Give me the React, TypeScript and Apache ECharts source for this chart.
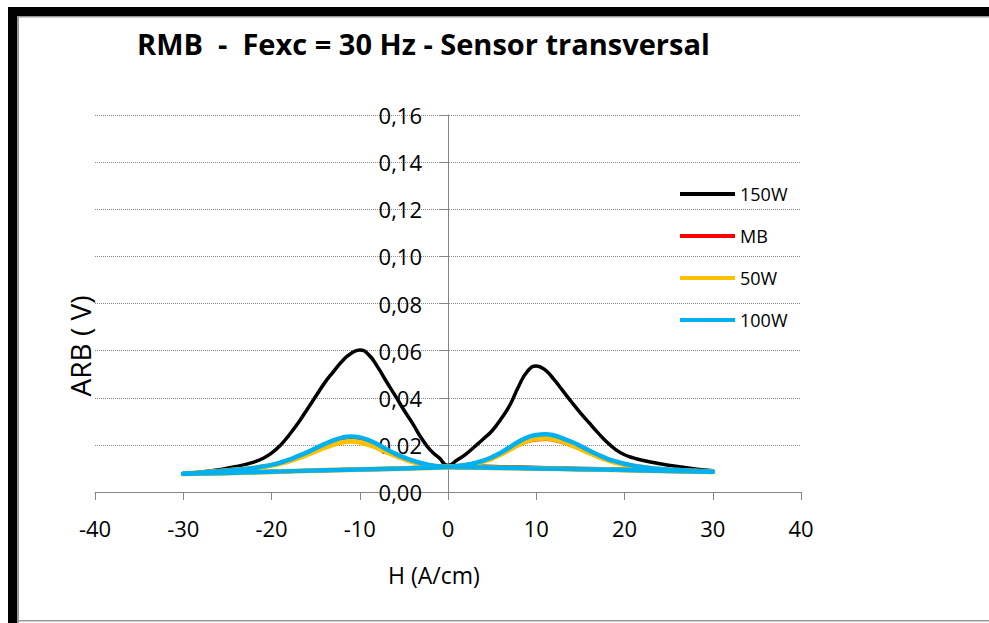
import React, { useEffect, useRef } from "react";
import * as echarts from "echarts";

const SERIES_NAMES = ["150W", "MB", "50W", "100W"];
const COLORS = ["#000000", "#FF0000", "#FFC000", "#00B0F0"];

// Rising-field branch (-30 -> 30) and falling-field branch (30 -> -30), H in A/cm
const H_UP = [-30, -25, -20, -15, -10, -5, -2, 0, 1, 2, 3, 4, 5, 6, 7, 8, 9, 10, 11, 12, 13, 14, 15, 16, 17, 18, 19, 20, 21, 22, 24, 26, 28, 30];
const H_DOWN = [30, 25, 20, 15, 10, 5, 2, 0, -1, -2, -3, -4, -5, -6, -7, -8, -9, -10, -11, -12, -13, -14, -15, -16, -17, -18, -19, -20, -21, -22, -24, -26, -28, -30];

const V_150W_UP = [
  0.0078, 0.0082, 0.0087, 0.0092, 0.0097, 0.0102, 0.0107, 0.0112,
  0.0135, 0.016, 0.0192, 0.0225, 0.026, 0.031, 0.0368, 0.0448, 0.0512, 0.0535, 0.0518, 0.0478, 0.043, 0.0382, 0.0336, 0.0293, 0.0251, 0.0212, 0.018, 0.0158, 0.0145, 0.0135,
  0.012, 0.0108, 0.0098, 0.009,
];
const V_150W_DOWN = [
  0.009, 0.0093, 0.0097, 0.01, 0.0104, 0.0108, 0.011, 0.0112,
  0.0145, 0.0178, 0.0228, 0.029, 0.0348, 0.041, 0.047, 0.0532, 0.0583, 0.0603, 0.0588, 0.0555, 0.051, 0.0462, 0.0405, 0.0348, 0.0292, 0.0242, 0.0198, 0.0165, 0.0142, 0.0127,
  0.0108, 0.0095, 0.0085, 0.0078,
];

const V_MB_UP = [
  0.0077, 0.0081, 0.0086, 0.0091, 0.0095, 0.01, 0.0103, 0.0106,
  0.0109, 0.0114, 0.0121, 0.0131, 0.0145, 0.0162, 0.0182, 0.0201, 0.0215, 0.0223, 0.0225, 0.0221, 0.0211, 0.0198, 0.0183, 0.0167, 0.0152, 0.0138, 0.0127, 0.0118, 0.0111, 0.0105,
  0.0097, 0.0092, 0.0089, 0.0086,
];
const V_MB_DOWN = [
  0.0086, 0.0089, 0.0093, 0.0097, 0.01, 0.0103, 0.0105, 0.0106,
  0.0109, 0.0113, 0.0121, 0.0131, 0.0144, 0.0159, 0.0177, 0.0196, 0.0211, 0.0221, 0.0225, 0.022, 0.0209, 0.0195, 0.0179, 0.0163, 0.0148, 0.0134, 0.0123, 0.0114, 0.0108, 0.0102,
  0.0094, 0.0088, 0.0082, 0.0077,
];

const V_50W_UP = [
  0.0077, 0.0081, 0.0086, 0.0091, 0.0095, 0.01, 0.0103, 0.0106,
  0.0109, 0.0114, 0.012, 0.013, 0.0143, 0.016, 0.018, 0.02, 0.0217, 0.0226, 0.0228, 0.0224, 0.0213, 0.0199, 0.0183, 0.0166, 0.015, 0.0136, 0.0125, 0.0116, 0.011, 0.0105,
  0.0097, 0.0092, 0.0089, 0.0086,
];
const V_50W_DOWN = [
  0.0086, 0.0089, 0.0093, 0.0097, 0.01, 0.0103, 0.0105, 0.0106,
  0.0108, 0.0112, 0.0119, 0.0128, 0.014, 0.0154, 0.017, 0.0187, 0.0201, 0.0211, 0.0215, 0.0211, 0.0201, 0.0188, 0.0173, 0.0158, 0.0144, 0.0131, 0.0121, 0.0113, 0.0107, 0.0102,
  0.0094, 0.0088, 0.0082, 0.0077,
];

const V_100W_UP = [
  0.0077, 0.0081, 0.0086, 0.0091, 0.0095, 0.01, 0.0103, 0.0106,
  0.011, 0.0115, 0.0122, 0.0133, 0.0148, 0.0167, 0.019, 0.0213, 0.0232, 0.0242, 0.0245, 0.024, 0.0228, 0.0213, 0.0195, 0.0176, 0.0158, 0.0142, 0.013, 0.012, 0.0112, 0.0106,
  0.0098, 0.0093, 0.0089, 0.0086,
];
const V_100W_DOWN = [
  0.0086, 0.0089, 0.0093, 0.0097, 0.01, 0.0103, 0.0105, 0.0106,
  0.0109, 0.0114, 0.0122, 0.0133, 0.0147, 0.0163, 0.0182, 0.0203, 0.022, 0.0232, 0.0236, 0.0231, 0.0219, 0.0203, 0.0186, 0.0168, 0.0152, 0.0137, 0.0125, 0.0115, 0.0108, 0.0102,
  0.0094, 0.0088, 0.0082, 0.0077,
];

const X_MIN = -40;
const X_MAX = 40;
const X_STEP = 10;
const Y_MIN = 0;
const Y_MAX = 0.16;
const Y_STEP = 0.02;

const TITLE = "RMB  -  Fexc = 30 Hz - Sensor transversal";
const X_NAME = "H (A/cm)";
const Y_NAME = "ARB ( V)";

const FONT = "'Open Sans', 'DejaVu Sans', sans-serif";

function pairs(h: number[], v: number[]) {
  return h.map((x, i) => [x, v[i]]);
}

export default function App() {
  const ref = useRef<HTMLDivElement>(null);
  useEffect(() => {
    if (!ref.current) return;
    const chart = echarts.init(ref.current, undefined, { renderer: "svg" });
    const branches = [
      [pairs(H_UP, V_150W_UP), pairs(H_DOWN, V_150W_DOWN)],
      [pairs(H_UP, V_MB_UP), pairs(H_DOWN, V_MB_DOWN)],
      [pairs(H_UP, V_50W_UP), pairs(H_DOWN, V_50W_DOWN)],
      [pairs(H_UP, V_100W_UP), pairs(H_DOWN, V_100W_DOWN)],
    ];
    const widths = [3.5, 4, 5, 4.5];
    const gridLeft = 95;
    const gridRight = 188;
    const plotW = 989 - gridLeft - gridRight;
    const zeroOffset = -plotW * ((0 - X_MIN) / (X_MAX - X_MIN));
    const series: any[] = [];
    SERIES_NAMES.forEach((name, i) => {
      branches[i].forEach((data) => {
        series.push({
          name,
          type: "line",
          data,
          smooth: 0.5,
          showSymbol: false,
          symbol: "none",
          color: COLORS[i],
          lineStyle: { color: COLORS[i], width: widths[i], cap: "round", join: "round" },
          z: 2 + i,
        });
      });
    });
    chart.setOption({
      animation: false,
      backgroundColor: "#ffffff",
      grid: { left: gridLeft, right: gridRight, top: 115, bottom: 131, containLabel: false },
      legend: {
        orient: "vertical",
        left: 675,
        top: 178,
        itemWidth: 55,
        itemHeight: 4,
        itemGap: 20,
        icon: "rect",
        data: SERIES_NAMES,
        textStyle: { fontFamily: FONT, fontSize: 18, color: "#000", lineHeight: 22, padding: [0, 0, 0, 0] },
      },
      xAxis: {
        type: "value",
        min: X_MIN,
        max: X_MAX,
        interval: X_STEP,
        axisLine: { onZero: true, lineStyle: { color: "#868686", width: 1 } },
        axisTick: { show: true, length: 8, lineStyle: { color: "#868686" } },
        axisLabel: { fontFamily: FONT, fontSize: 22, color: "#000", margin: 25 },
        splitLine: { show: false },
      },
      yAxis: {
        type: "value",
        min: Y_MIN,
        max: Y_MAX,
        interval: Y_STEP,
        position: "left",
        offset: zeroOffset,
        axisLine: { show: true, onZero: false, lineStyle: { color: "#868686", width: 1 } },
        axisTick: { show: true, length: 8, lineStyle: { color: "#868686" } },
        axisLabel: {
          fontFamily: FONT,
          fontSize: 22,
          color: "#000",
          margin: 26,
          formatter: (v: number) => v.toFixed(2).replace(".", ","),
        },
        splitLine: { show: true, lineStyle: { color: "#8a8a8a", type: "dotted", width: 1 } },
      },
      series,
      graphic: [
        { type: "rect", left: 8, top: 7, shape: { width: 981, height: 9 }, style: { fill: "#000" }, silent: true },
        { type: "rect", left: 8, top: 7, shape: { width: 9, height: 616 }, style: { fill: "#000" }, silent: true },
        { type: "rect", left: 17, top: 16, shape: { width: 972, height: 1.5 }, style: { fill: "#999" }, silent: true },
        { type: "rect", left: 17, top: 16, shape: { width: 2, height: 607 }, style: { fill: "#999" }, silent: true },
        { type: "rect", left: 17, top: 620, shape: { width: 972, height: 1.5 }, style: { fill: "#999" }, silent: true },
        {
          type: "text",
          left: 137,
          top: 29,
          style: { text: TITLE, fontFamily: FONT, fontSize: 29, fontWeight: "bold", fill: "#000" },
          silent: true,
        },
        {
          type: "text",
          x: 434,
          y: 575,
          style: { text: X_NAME, fontFamily: FONT, fontSize: 23, fill: "#000", align: "center", verticalAlign: "middle" },
          silent: true,
        },
        {
          type: "text",
          x: 80,
          y: 346,
          rotation: Math.PI / 2,
          style: { text: Y_NAME, fontFamily: FONT, fontSize: 28, fill: "#000", align: "center", verticalAlign: "middle" },
          silent: true,
        },
      ],
    });
    return () => chart.dispose();
  }, []);
  return <div ref={ref} style={{ position: "fixed", left: 0, top: 0, width: 989, height: 623 }} />;
}
